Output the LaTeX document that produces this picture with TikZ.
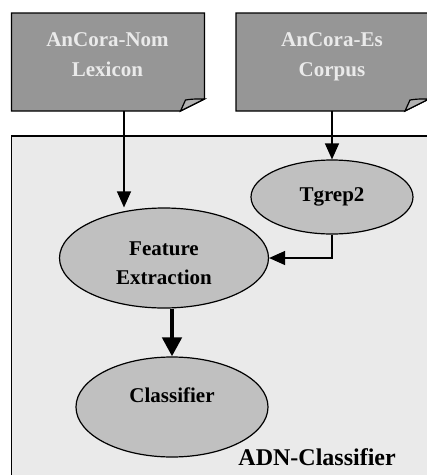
\documentclass[tikz,border=0pt]{standalone}
\usepackage{fontspec}
\setmainfont{Liberation Serif}
\usetikzlibrary{arrows.meta,shapes.geometric}

\definecolor{docgray}{RGB}{150,150,150}
\definecolor{foldgray}{RGB}{178,178,178}
\definecolor{procgray}{RGB}{192,192,192}
\definecolor{panelgray}{RGB}{234,234,234}
\definecolor{doctext}{RGB}{234,234,234}

\tikzset{
  proc/.style={ellipse, draw, line width=1.2pt, fill=procgray,
    font=\fontsize{21}{29}\selectfont\bfseries, align=center, inner sep=0pt},
  doctitle/.style={font=\fontsize{21}{30}\selectfont\bfseries, text=doctext,
    align=center, text depth=0pt},
  flow/.style={line width=1.3pt, -{Triangle[length=16pt,width=14pt]}},
  bigflow/.style={line width=4.5pt, -{Triangle[length=19pt,width=19pt]}}
}

\begin{document}
\begin{tikzpicture}[x=1pt, y=-1pt]

    % Picture is 427 x 475, everything else is cut off at the edges
    \useasboundingbox (0,0) rectangle (427,475);
    \clip (0,0) rectangle (427,475);

    % Document size (dw == `document width', dh == `document height')
    \pgfmathsetmacro{\dw}{193}
    \pgfmathsetmacro{\dh}{98}

    % Size of the folded corner
    \pgfmathsetmacro{\fx}{24}
    \pgfmathsetmacro{\fy}{12}

    % Big panel of the classifier, runs out of the picture
    \draw[line width=1.2pt, fill=panelgray] (11.5,136) rectangle (440,490);
    \node[anchor=base east, font=\fontsize{24}{28}\selectfont\bfseries, inner sep=0pt]
      (adn) at (396,465) {ADN-Classifier};

    % Draw the two input documents
    \foreach \name/\lx/\title in {lex/11.5/{AnCora-Nom\\Lexicon}, corp/236/{AnCora-Es\\Corpus}}{
      % Left corner coordinates (we choose top left corner)
      \pgfmathsetmacro{\rx}{\lx + \dw}
      \pgfmathsetmacro{\by}{13 + \dh}

      \draw[line width=1.2pt, fill=docgray] (\lx,13) -- (\rx,13) -- (\rx,\by-\fy)
        -- (\rx-\fx,\by) -- (\lx,\by) -- cycle;

      % The curled corner
      \draw[line width=1.2pt, fill=foldgray] (\rx-\fx,\by) -- (\rx-\fx+5,\by-\fy+1)
        .. controls (\rx-12,\by-\fy) .. (\rx,\by-\fy) -- cycle;

      \node[doctitle] (\name) at (\lx+\dw/2-0.5,55) {\title};
    }

    % The connectors leave the documents here
    \coordinate (lexbot) at (124,111);
    \coordinate (corpbot) at (332,111);

    % Processing steps
    \node[proc, minimum width=162pt, minimum height=74pt] (tgrep) at (332,197) {Tgrep2};
    \node[proc, minimum width=209pt, minimum height=100pt] (feat) at (164,258)
      {\rule{0pt}{24pt}Feature\\Extraction};
    \node[proc, minimum width=192pt, minimum height=100pt, text depth=24pt] (clf) at (172,407)
      {Classifier};

    % Connect them
    \draw[flow] (lexbot) -- (lexbot |- feat.north);
    \draw[flow] (corpbot) -- (tgrep.north);
    \draw[flow] (tgrep.south) |- (feat.east);
    \draw[bigflow] (feat.south -| clf.north) -- (clf.north);

  \end{tikzpicture}
\end{document}
